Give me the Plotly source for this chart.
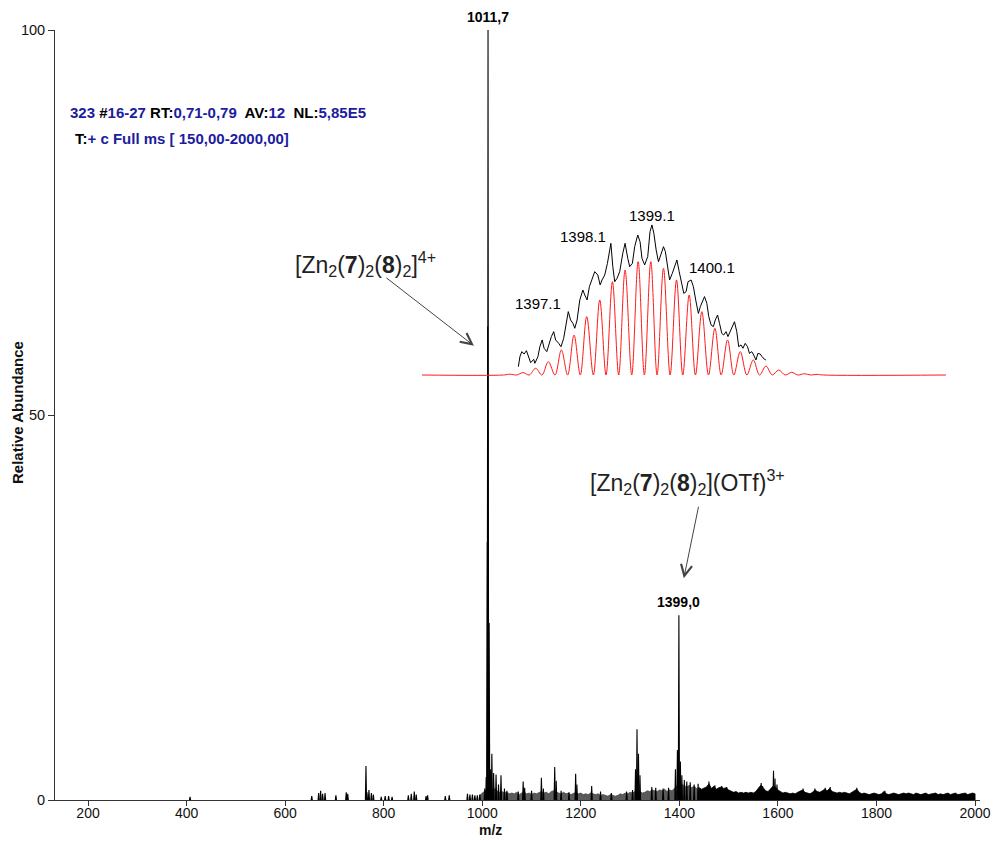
import plotly.graph_objects as go

FONT = "Arial, 'Liberation Sans', sans-serif"
BLUE = "#1c1c9e"

# ---- full-scan spectrum: resolved peaks (m/z, relative abundance %) ----
peak_mz = [407, 654, 668, 672, 676, 681, 703, 724, 727, 764, 766, 770, 775, 779,
           795, 803, 810, 817, 850, 856, 862, 866, 886, 889, 925, 933,
           970, 975, 980, 985, 990, 995,
           1005, 1008, 1010.2, 1011.0, 1011.7, 1014.0, 1017, 1019.5, 1023, 1028,
           1033, 1038, 1045, 1050, 1073, 1083, 1086, 1100, 1120, 1124, 1147, 1150,
           1160, 1176, 1189.5, 1192, 1222, 1240, 1262, 1293, 1305, 1311, 1314,
           1317, 1320, 1344, 1352, 1367, 1378, 1392, 1396, 1399.0, 1402, 1405,
           1410, 1415, 1422, 1430, 1438, 1460, 1472, 1486, 1496, 1566, 1569,
           1591, 1594, 1598, 1651, 1675, 1696, 1706, 1760, 1817]
peak_int = [0.4, 0.5, 0.9, 1.2, 0.8, 0.9, 0.6, 1.0, 0.8, 4.4, 1.0, 1.3, 0.9, 0.7,
            0.4, 0.5, 0.5, 0.4, 0.6, 0.8, 1.1, 0.7, 0.5, 0.6, 0.5, 0.6,
            0.8, 0.7, 0.7, 0.6, 0.6, 0.7,
            1.5, 3.0, 33.5, 61.5, 100.0, 23.0, 4.0, 6.0, 3.5, 3.3,
            2.0, 3.2, 1.5, 1.2, 1.1, 2.4, 1.6, 1.2, 2.9, 1.5, 4.3, 2.5,
            1.2, 1.0, 3.4, 2.0, 1.8, 1.1, 0.9, 1.1, 1.3, 4.0, 9.2,
            6.0, 3.2, 1.7, 1.6, 1.5, 1.6, 4.0, 6.5, 24.0, 5.0, 3.2,
            2.6, 2.4, 2.3, 2.0, 2.1, 2.4, 1.9, 1.8, 1.7, 2.2, 1.8,
            3.8, 2.8, 2.0, 1.5, 1.5, 1.6, 1.7, 1.6, 1.2]

# ---- chemical noise floor, sampled every 5 m/z ----
noise_a_mz = list(range(995, 1445, 5))
noise_a = [0.6, 0.9, 1.1, 1.4, 1.6, 1.3, 1.5, 1.2, 1.0, 1.1,
           0.9, 1.0, 0.8, 0.9, 0.8, 1.0, 0.7, 0.9, 1.0, 0.8,
           0.9, 0.7, 0.9, 0.8, 1.0, 1.1, 0.9, 1.0, 0.8, 1.1,
           1.2, 1.0, 0.9, 0.8, 1.0, 0.8, 0.9, 0.7, 0.9, 1.0,
           0.8, 0.9, 0.7, 0.8, 0.7, 0.9, 0.8, 0.7, 0.8, 0.6,
           0.7, 0.6, 0.5, 0.7, 0.6, 0.5, 0.6, 0.8, 0.7, 0.9,
           0.8, 1.0, 0.9, 1.1, 1.3, 1.1, 0.9, 1.0, 1.2, 1.1,
           1.3, 1.2, 1.1, 1.3, 1.2, 1.4, 1.1, 1.3, 1.2, 1.5,
           1.8, 2.2, 2.0, 1.8, 1.7, 1.9, 1.6, 1.8, 1.5, 1.6]
noise_b_mz = list(range(1440, 2005, 5))
noise_b = [1.6, 1.4, 1.5, 1.7, 2.1, 1.5, 1.8, 1.4, 1.6, 1.7,
           1.5, 1.6, 1.3, 1.1, 1.0, 1.1, 0.9, 1.0, 0.9, 1.0,
           0.9, 1.0, 0.9, 1.1, 1.5, 1.9, 1.6, 1.2, 1.1, 1.4,
           1.8, 1.7, 1.3, 1.1, 0.9, 1.0, 0.9, 0.8, 0.9, 0.8,
           1.0, 1.1, 1.3, 1.0, 0.9, 0.8, 1.0, 1.3, 1.1, 1.0,
           1.2, 1.4, 1.2, 1.5, 1.1, 1.0, 0.9, 1.0, 0.9, 1.0,
           0.9, 0.8, 1.0, 1.2, 1.4, 1.0, 0.8, 0.9, 0.8, 0.7,
           0.8, 0.9, 0.8, 0.7, 0.8, 1.1, 0.8, 0.7, 0.8, 0.9,
           0.8, 0.7, 0.8, 0.9, 0.8, 0.9, 0.8, 0.7, 0.9, 0.8,
           0.7, 0.8, 0.9, 0.7, 0.8, 0.8, 0.9, 0.7, 0.8, 0.7,
           0.8, 0.9, 0.7, 0.8, 0.9, 0.7, 0.8, 0.8, 0.9, 0.7,
           0.8, 0.9, 0.8]

# ---- isotope pattern of the 3+ ion (zoomed view) ----
iso_calc_mz = [1395.40, 1395.74, 1396.07, 1396.40, 1396.74, 1397.07, 1397.40, 1397.74,
               1398.07, 1398.40, 1398.74, 1399.07, 1399.40, 1399.74, 1400.07,
               1400.40, 1400.74, 1401.07, 1401.40, 1401.74, 1402.07, 1402.40,
               1402.74, 1403.07, 1403.40]
iso_calc_int = [0.5, 1.5, 4.2, 8.3, 15.6, 25.0, 36.5, 46.9, 58.3, 65.6, 70.8, 70.8,
                66.7, 59.4, 50.0, 39.6, 29.2, 21.9, 14.6, 9.4, 5.6, 3.1, 1.7, 0.8, 0.4]
iso_window = [1393.11, 1406.76]

iso_obs_mz = [1395.62, 1395.66, 1395.71, 1395.77, 1395.83, 1395.90, 1395.94, 1396.02,
              1396.05, 1396.13, 1396.18, 1396.24, 1396.29, 1396.36, 1396.42, 1396.48,
              1396.54, 1396.59, 1396.67, 1396.73, 1396.80, 1396.85, 1396.92, 1396.98,
              1397.04, 1397.09, 1397.15, 1397.22, 1397.30, 1397.35, 1397.41, 1397.47,
              1397.54, 1397.61, 1397.69, 1397.75, 1397.80, 1397.87, 1397.94, 1397.98,
              1398.03, 1398.08, 1398.13, 1398.19, 1398.26, 1398.34, 1398.40, 1398.47,
              1398.52, 1398.59, 1398.65, 1398.73, 1398.79, 1398.84, 1398.91, 1398.99,
              1399.05, 1399.10, 1399.15, 1399.21, 1399.27, 1399.33, 1399.40, 1399.45,
              1399.51, 1399.56, 1399.63, 1399.69, 1399.75, 1399.81, 1399.88, 1399.93,
              1399.99, 1400.04, 1400.12, 1400.18, 1400.24, 1400.31, 1400.36, 1400.42,
              1400.47, 1400.53, 1400.58, 1400.64, 1400.70, 1400.75, 1400.81, 1400.86,
              1400.92, 1400.97, 1401.03, 1401.08, 1401.14, 1401.20, 1401.25, 1401.31,
              1401.36, 1401.42, 1401.47, 1401.53, 1401.59, 1401.64, 1401.70, 1401.75,
              1401.81, 1401.86, 1401.92, 1401.97, 1402.03, 1402.07]
iso_obs_int = [5.2, 11.5, 14.6, 13.1, 15.2, 10.4, 7.7, 9.8,
               7.3, 11.5, 17.7, 21.9, 16.7, 14.6, 19.4, 24.0,
               27.1, 21.9, 19.8, 17.7, 22.9, 30.2, 39.6, 34.4,
               32.3, 29.2, 34.4, 46.9, 53.1, 50.0, 46.9, 55.2,
               60.4, 64.6, 62.5, 56.3, 59.4, 62.5, 69.8, 76.0,
               82.3, 67.7, 58.3, 60.4, 64.6, 76.0, 82.3, 72.9,
               67.7, 69.8, 80.2, 87.5, 83.3, 72.9, 68.8, 74.0,
               89.6, 93.8, 88.5, 78.1, 70.8, 75.0, 80.2, 77.1,
               67.7, 59.4, 63.5, 67.7, 71.9, 64.6, 55.2, 51.0,
               52.1, 58.3, 59.4, 55.2, 46.9, 38.5, 42.7, 46.9,
               49.0, 44.8, 36.5, 31.3, 30.2, 34.4, 37.5, 32.3,
               26.0, 25.0, 27.1, 24.0, 27.1, 31.3, 33.3, 27.1,
               17.7, 18.8, 16.7, 19.8, 17.7, 13.5, 14.6, 12.5,
               9.4, 13.5, 13.1, 11.5, 9.8, 9.4]

iso_labels = ["1397.1", "1398.1", "1399.1", "1400.1"]
iso_label_mz = [1396.13, 1397.30, 1399.10, 1400.66]
iso_label_int = [45.0, 86.3, 100.0, 66.9]

x_ticks = [200, 400, 600, 800, 1000, 1200, 1400, 1600, 1800, 2000]
y_ticks = [0, 50, 100]

# stick peaks as narrow spikes
half_w = 1.2
stick_x, stick_y = [], []
for m, h in zip(peak_mz, peak_int):
    stick_x += [m - half_w, m, m + half_w, None]
    stick_y += [0, h, 0, None]

# simulated pattern: smooth lobes that return to the baseline between isotopes
calc_x = [iso_window[0]]
calc_y = [0]
for m, h in zip(iso_calc_mz, iso_calc_int):
    calc_x += [m - 1 / 6, m]
    calc_y += [0, h]
calc_x += [iso_calc_mz[-1] + 1 / 6, iso_window[1]]
calc_y += [0, 0]

fig = go.Figure()

fig.add_trace(go.Scatter(
    x=[noise_a_mz[0]] + noise_a_mz + [noise_a_mz[-1]],
    y=[0] + noise_a + [0],
    mode="lines", fill="tozeroy", fillcolor="#5a5a5a",
    line=dict(color="#4a4a4a", width=0.8), hoverinfo="skip"))
fig.add_trace(go.Scatter(
    x=[noise_b_mz[0]] + noise_b_mz + [noise_b_mz[-1]],
    y=[0] + noise_b + [0],
    mode="lines", fill="tozeroy", fillcolor="#000000",
    line=dict(color="#000000", width=0.8), hoverinfo="skip"))
fig.add_trace(go.Scatter(
    x=stick_x, y=stick_y, mode="lines",
    line=dict(color="#000000", width=1.1), hoverinfo="skip"))

# zoomed isotope cluster on its own axes
fig.add_trace(go.Scatter(
    x=iso_obs_mz, y=iso_obs_int, mode="lines",
    line=dict(color="#000000", width=1), xaxis="x2", yaxis="y2", hoverinfo="skip"))
fig.add_trace(go.Scatter(
    x=calc_x, y=calc_y, mode="lines", line_shape="spline",
    line=dict(color="#ff1a1a", width=1), xaxis="x2", yaxis="y2", hoverinfo="skip"))

annotations = []

# scan header
annotations.append(dict(
    xref="paper", yref="paper", x=0.014, y=0.8935, xanchor="left", yanchor="middle",
    showarrow=False, font=dict(family=FONT, size=15, color="#000000"),
    text=(f"<b><span style='color:{BLUE}'>323</span> #<span style='color:{BLUE}'>16-27</span> "
          f"RT:<span style='color:{BLUE}'>0,71-0,79</span>  AV:<span style='color:{BLUE}'>12</span>  "
          f"NL:<span style='color:{BLUE}'>5,85E5</span></b>")))
annotations.append(dict(
    xref="paper", yref="paper", x=0.0195, y=0.8597, xanchor="left", yanchor="middle",
    showarrow=False, font=dict(family=FONT, size=15, color="#000000"),
    text=f"<b>T:<span style='color:{BLUE}'>+ c Full ms [ 150,00-2000,00]</span></b>"))

# axis titles
annotations.append(dict(xref="paper", yref="paper", x=-0.04, y=0.5026, textangle=-90,
                        xanchor="center", yanchor="middle", showarrow=False,
                        text="<b>Relative Abundance</b>",
                        font=dict(family=FONT, size=15, color="#111111")))
annotations.append(dict(xref="paper", yref="paper", x=0.4703, y=-0.0385,
                        xanchor="center", yanchor="middle", showarrow=False,
                        text="<b>m/z</b>",
                        font=dict(family=FONT, size=14, color="#111111")))

# peak labels
annotations.append(dict(x=1011.7, y=100, xanchor="center", yanchor="bottom", yshift=3,
                        showarrow=False, text="<b>1011,7</b>",
                        font=dict(family=FONT, size=14, color="#000000")))
annotations.append(dict(x=1399.0, y=24.0, xanchor="center", yanchor="bottom", yshift=3,
                        showarrow=False, text="<b>1399,0</b>",
                        font=dict(family=FONT, size=14, color="#000000")))

for lab, m, h in zip(iso_labels, iso_label_mz, iso_label_int):
    annotations.append(dict(xref="x2", yref="y2", x=m, y=h, showarrow=False, text=lab,
                            xanchor="center", yanchor="middle",
                            font=dict(family=FONT, size=15, color="#000000")))

# species assignments with arrows
ion4 = "[Zn<sub>2</sub>(<b>7</b>)<sub>2</sub>(<b>8</b>)<sub>2</sub>]<sup>4+</sup>"
ion3 = "[Zn<sub>2</sub>(<b>7</b>)<sub>2</sub>(<b>8</b>)<sub>2</sub>](OTf)<sup>3+</sup>"
annotations.append(dict(x=764, y=69.6, xref="x", yref="y", showarrow=False, text=ion4,
                        xanchor="center", yanchor="middle",
                        font=dict(family=FONT, size=23, color="#222222")))
annotations.append(dict(x=1415.5, y=41.3, xref="x", yref="y", showarrow=False, text=ion3,
                        xanchor="center", yanchor="middle",
                        font=dict(family=FONT, size=23, color="#222222")))
annotations.append(dict(x=983, y=59.0, text="", showarrow=True, ax=-89, ay=-69,
                        arrowhead=5, arrowsize=2.2, arrowwidth=1, arrowcolor="#444444",
                        standoff=0, startstandoff=0))
annotations.append(dict(x=1409, y=28.8, text="", showarrow=True, ax=15, ay=-73,
                        arrowhead=5, arrowsize=2.2, arrowwidth=1, arrowcolor="#444444",
                        standoff=0, startstandoff=0))

fig.update_layout(
    width=996, height=841,
    margin=dict(l=55, r=16, t=30, b=41, autoexpand=False),
    paper_bgcolor="white", plot_bgcolor="rgba(0,0,0,0)",
    showlegend=False,
    font=dict(family=FONT, size=13, color="#000000"),
    xaxis=dict(range=[133, 2010], tickvals=x_ticks, ticks="outside", ticklen=5,
               tickcolor="#333333", showline=True, linecolor="#333333", linewidth=1,
               showgrid=False, zeroline=False, automargin=False, ticklabelstandoff=-5,
               tickfont=dict(family=FONT, size=14, color="#111111")),
    yaxis=dict(range=[0, 100], tickvals=y_ticks, ticks="outside", ticklen=6,
               tickcolor="#333333", showline=True, linecolor="#333333", linewidth=1,
               showgrid=False, zeroline=False, automargin=False,
               tickfont=dict(family=FONT, size=14.5, color="#111111")),
    xaxis2=dict(domain=[0.3968, 0.9632], range=iso_window, visible=False,
                anchor="y2"),
    yaxis2=dict(domain=[0.54156, 0.75974], range=[-5, 100], visible=False,
                anchor="x2"),
    annotations=annotations,
)

fig.write_html("out.html")
